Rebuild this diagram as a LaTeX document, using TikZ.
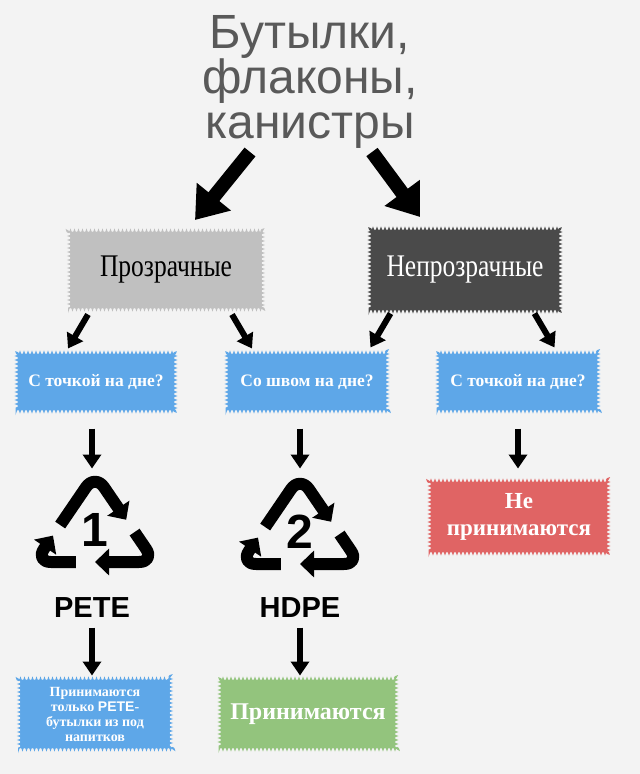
\documentclass[tikz,border=0pt]{standalone}
\usepackage{fontspec}
\setmainfont{Liberation Serif}
\newfontfamily\arialf{Liberation Sans}
\usetikzlibrary{arrows.meta,calc,decorations.pathmorphing,decorations.shapes}
\definecolor{bg}{HTML}{F3F3F3}
\definecolor{bluebox}{HTML}{5EA7E8}
\definecolor{greenbox}{HTML}{93C47D}
\definecolor{redbox}{HTML}{E06464}
\definecolor{lightgraybox}{HTML}{C0C0C0}
\definecolor{darkbox}{HTML}{4A4A4A}
\tikzset{
  wavy/.style={draw=#1,fill=#1,line width=1pt,decorate,decoration={bumps,segment length=8pt,amplitude=2.5pt},align=center,inner sep=0pt},
  bigarrow/.style={line width=14pt,-{Triangle[width=42pt,length=30pt]}},
  midarrow/.style={line width=6pt,-{Triangle[width=18pt,length=14pt]}},
  recarrow/.style={line width=12pt,line join=round,rounded corners=16pt,-{Triangle[width=26pt,length=14pt]}},
  qtext/.style={text=white,font=\bfseries\fontsize{17.5}{19}\selectfont}
}
\newcommand{\recsym}[3]{%
  \begin{scope}[shift={#1}]
    \coordinate (T) at (0,-50); \coordinate (L) at (-60,38); \coordinate (R) at (60,38);
    \draw[recarrow] ($(L)!0.42!(T)$) -- (T) -- ($(T)!0.52!(R)$);
    \draw[recarrow] ($(T)!0.66!(R)$) -- (R) -- ($(R)!0.5!(L)$);
    \draw[recarrow] ($(R)!0.66!(L)$) -- (L) -- ($(L)!0.3!(T)$);
    \node[font=\arialf\bfseries\fontsize{48}{48}\selectfont] (#3) at (0,6) {#2};
  \end{scope}}
\begin{document}
\begin{tikzpicture}[x=1pt,y=-1pt]
\fill[bg] (0,0) rectangle (640,774);
\useasboundingbox (0,0) rectangle (640,774);
\node[text=black!65,font=\arialf\fontsize{48}{45}\selectfont,align=center] (title) at (310,82) {Бутылки,\\флаконы,\\канистры};
% level 1
\node[wavy=lightgraybox,minimum width=195pt,minimum height=80pt,font=\fontsize{30}{32}\selectfont] (clear) at (166,270) {\scalebox{0.85}[1.05]{Прозрачные}};
\node[wavy=darkbox,text=white,minimum width=192pt,minimum height=84pt,font=\fontsize{30}{32}\selectfont] (opaque) at (465,270) {\scalebox{0.85}[1.05]{Непрозрачные}};
\coordinate (a1s) at (250,152); \coordinate (a1e) at (195,220);
\coordinate (a2s) at (372,152); \coordinate (a2e) at (420,217);
\draw[bigarrow] (a1s) -- (a1e);
\draw[bigarrow] (a2s) -- (a2e);
% level 2
\node[wavy=bluebox,qtext,minimum width=160pt,minimum height=60pt] (q1) at (96,382) {С точкой на дне?};
\node[wavy=bluebox,qtext,minimum width=162pt,minimum height=60pt] (q2) at (307,382) {Со швом на дне?};
\node[wavy=bluebox,qtext,minimum width=162pt,minimum height=60pt] (q3) at (518,382) {С точкой на дне?};
\draw[midarrow] (clear.south west)++(20,4) -- ++(-20,34);
\draw[midarrow] (clear.south east)++(-32,4) -- ++(20,34);
\draw[midarrow] (opaque.south west)++(22,1) -- ++(-20,34);
\draw[midarrow] (opaque.south east)++(-27,1) -- ++(20,34);
% symbols
\recsym{(95,524)}{1}{n1}
\recsym{(300,526)}{2}{n2}
\node[font=\arialf\bfseries\fontsize{29}{29}\selectfont] (pete) at (92,608) {PETE};
\node[font=\arialf\bfseries\fontsize{29}{29}\selectfont] (hdpe) at (300,608) {HDPE};
\draw[midarrow] (q1.south)++(-4,16) -- ++(0,40);
\draw[midarrow] (q2.south)++(-7,16) -- ++(0,40);
\draw[midarrow] (q3.south)++(0,16) -- ++(0,40);
\node[wavy=redbox,text=white,font=\bfseries\fontsize{23}{27}\selectfont,minimum width=180pt,minimum height=74pt] (no) at (519,517) {Не\\принимаются};
% bottom
\node[wavy=bluebox,text=white,font=\bfseries\fontsize{14}{15}\selectfont,minimum width=153pt,minimum height=72pt] (yes1) at (95,714) {Принимаются\\только {\arialf PETE}-\\бутылки из под\\напитков};
\node[wavy=greenbox,text=white,font=\bfseries\fontsize{24}{26}\selectfont,minimum width=178pt,minimum height=72pt] (yes2) at (308,714) {Принимаются};
\draw[midarrow] (pete.south)++(0,6) -- ++(0,48);
\draw[midarrow] (hdpe.south)++(0,6) -- ++(0,48);
\end{tikzpicture}
\end{document}
